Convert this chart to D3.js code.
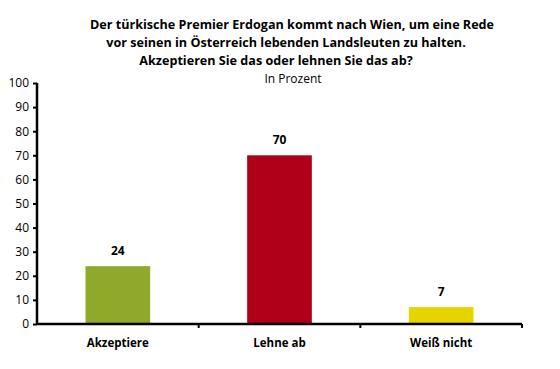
<!DOCTYPE html>
<html>
<head>
<meta charset="utf-8">
<script src="https://cdn.jsdelivr.net/npm/d3@7"></script>
<style>
body { margin: 0; background: white; }
text { font-family: "Open Sans", sans-serif; fill: #000; }
</style>
</head>
<body>
<svg id="chart"></svg>
<script>
var categories = ["Akzeptiere", "Lehne ab", "Weiß nicht"]
var values = [24, 70, 7]
var colors = ["#8fa92a", "#b00018", "#e6d400"]
var yTicks = [0, 10, 20, 30, 40, 50, 60, 70, 80, 90, 100]
var titleLines = ["Der türkische Premier Erdogan kommt nach Wien, um eine Rede",
    "vor seinen in Österreich lebenden Landsleuten zu halten.",
    "Akzeptieren Sie das oder lehnen Sie das ab?"]
var subtitle = "In Prozent"

var width = 560
var height = 369

var svg = d3.select("#chart")
    .attr("width", width)
    .attr("height", height)

var x = d3.scaleBand()
    .domain(categories)
    .range([37, 522])
    .paddingInner(0.6)
    .paddingOuter(0.3)

var y = d3.scaleLinear()
    .domain([0, 100])
    .range([324, 83])

// title, each line centred a bit differently like the original
var titleX = [292, 286, 276]
var titleY = [29, 47, 65]
svg.selectAll("text.title")
    .data(titleLines)
    .enter()
    .append("text")
    .attr("class", "title")
    .attr("x", function(d, i) { return titleX[i] })
    .attr("y", function(d, i) { return titleY[i] })
    .attr("text-anchor", "middle")
    .style("font-weight", "bold")
    .style("font-size", "12.6px")
    .text(function(d) { return d })

svg.append("text")
    .attr("x", 293)
    .attr("y", 83)
    .attr("text-anchor", "middle")
    .style("font-size", "12px")
    .text(subtitle)

// bars
svg.selectAll("rect.bar")
    .data(values)
    .enter()
    .append("rect")
    .attr("class", "bar")
    .attr("x", function(d, i) { return x(categories[i]) })
    .attr("y", function(d) { return y(d) })
    .attr("width", x.bandwidth())
    .attr("height", function(d) { return y(0) - y(d) })
    .style("fill", function(d, i) { return colors[i] })

svg.selectAll("text.value")
    .data(values)
    .enter()
    .append("text")
    .attr("class", "value")
    .attr("x", function(d, i) { return x(categories[i]) + x.bandwidth() / 2 })
    .attr("y", function(d) { return y(d) - 11 })
    .attr("text-anchor", "middle")
    .style("font-weight", "bold")
    .style("font-size", "12px")
    .text(function(d) { return d })

// y axis
var yAxis = svg.append("g")
    .attr("transform", "translate(37,0)")
    .call(d3.axisLeft(y).tickValues(yTicks).tickSize(4).tickPadding(4))
yAxis.select(".domain").attr("stroke-width", 2.5).attr("d", "M0," + y(100) + "V" + y(0))
yAxis.selectAll(".tick line").attr("stroke-width", 2)
yAxis.selectAll(".tick text").style("font-size", "12px").style("font-family", "'Open Sans', sans-serif")

// x axis with ticks on the category boundaries
var bounds = categories.map(function(c) { return x(c) + x.bandwidth() / 2 + x.step() / 2 })
var xAxis = svg.append("g")
xAxis.append("line")
    .attr("x1", x.range()[0])
    .attr("x2", x.range()[1])
    .attr("y1", y(0))
    .attr("y2", y(0))
    .attr("stroke", "#000")
    .attr("stroke-width", 2.5)
xAxis.selectAll("line.tick")
    .data(bounds)
    .enter()
    .append("line")
    .attr("class", "tick")
    .attr("x1", function(d) { return d })
    .attr("x2", function(d) { return d })
    .attr("y1", y(0))
    .attr("y2", y(0) + 4)
    .attr("stroke", "#000")
    .attr("stroke-width", 2)

xAxis.selectAll("text.cat")
    .data(categories)
    .enter()
    .append("text")
    .attr("class", "cat")
    .attr("x", function(d) { return x(d) + x.bandwidth() / 2 })
    .attr("y", 347)
    .attr("text-anchor", "middle")
    .style("font-weight", "bold")
    .style("font-size", "11.5px")
    .text(function(d) { return d })
</script>
</body>
</html>
